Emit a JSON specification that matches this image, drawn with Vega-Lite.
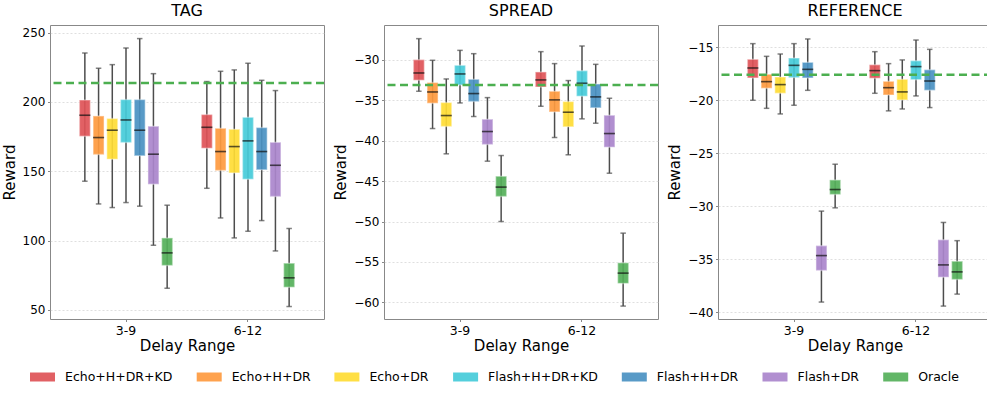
{
"$schema":"https://vega.github.io/schema/vega-lite/v6.json",
"padding":{"left":1,"top":2,"right":0,"bottom":0},
"datasets":{
"boxes":[
{"panel":"TAG","range":"3-9","method":"Echo+H+DR+KD","low":142.8,"q1":175.2,"median":190.4,"q3":201.4,"high":235.3},
{"panel":"TAG","range":"3-9","method":"Echo+H+DR","low":126.4,"q1":162.0,"median":174.3,"q3":189.9,"high":224.3},
{"panel":"TAG","range":"3-9","method":"Echo+DR","low":123.8,"q1":158.7,"median":179.6,"q3":188.0,"high":226.9},
{"panel":"TAG","range":"3-9","method":"Flash+H+DR+KD","low":127.4,"q1":170.7,"median":187.0,"q3":201.7,"high":238.9},
{"panel":"TAG","range":"3-9","method":"Flash+H+DR","low":124.8,"q1":161.1,"median":179.6,"q3":201.7,"high":245.7},
{"panel":"TAG","range":"3-9","method":"Flash+DR","low":96.6,"q1":140.6,"median":162.3,"q3":182.5,"high":220.4},
{"panel":"TAG","range":"3-9","method":"Oracle","low":65.6,"q1":82.0,"median":91.1,"q3":101.9,"high":125.5},
{"panel":"TAG","range":"6-12","method":"Echo+H+DR+KD","low":137.7,"q1":166.6,"median":181.7,"q3":190.9,"high":214.7},
{"panel":"TAG","range":"6-12","method":"Echo+H+DR","low":116.3,"q1":150.5,"median":164.2,"q3":181.0,"high":222.1},
{"panel":"TAG","range":"6-12","method":"Echo+DR","low":101.9,"q1":148.8,"median":167.8,"q3":180.3,"high":223.1},
{"panel":"TAG","range":"6-12","method":"Flash+H+DR+KD","low":106.7,"q1":144.2,"median":171.9,"q3":188.9,"high":227.9},
{"panel":"TAG","range":"6-12","method":"Flash+H+DR","low":114.4,"q1":151.0,"median":164.2,"q3":181.5,"high":215.6},
{"panel":"TAG","range":"6-12","method":"Flash+DR","low":92.5,"q1":131.7,"median":154.3,"q3":170.9,"high":208.2},
{"panel":"TAG","range":"6-12","method":"Oracle","low":52.4,"q1":66.3,"median":73.1,"q3":83.7,"high":108.7},
{"panel":"SPREAD","range":"3-9","method":"Echo+H+DR+KD","low":-33.87,"q1":-32.51,"median":-31.61,"q3":-29.96,"high":-27.36},
{"panel":"SPREAD","range":"3-9","method":"Echo+H+DR","low":-38.49,"q1":-35.36,"median":-33.96,"q3":-32.80,"high":-30.04},
{"panel":"SPREAD","range":"3-9","method":"Echo+DR","low":-41.62,"q1":-38.24,"median":-36.88,"q3":-35.27,"high":-32.35},
{"panel":"SPREAD","range":"3-9","method":"Flash+H+DR+KD","low":-35.32,"q1":-33.09,"median":-31.73,"q3":-30.66,"high":-28.81},
{"panel":"SPREAD","range":"3-9","method":"Flash+H+DR","low":-37.00,"q1":-35.15,"median":-34.16,"q3":-32.39,"high":-29.22},
{"panel":"SPREAD","range":"3-9","method":"Flash+DR","low":-42.53,"q1":-40.47,"median":-38.86,"q3":-37.33,"high":-34.66},
{"panel":"SPREAD","range":"3-9","method":"Oracle","low":-50.0,"q1":-46.91,"median":-45.74,"q3":-44.39,"high":-41.83},
{"panel":"SPREAD","range":"6-12","method":"Echo+H+DR+KD","low":-35.73,"q1":-33.34,"median":-32.47,"q3":-31.48,"high":-28.97},
{"panel":"SPREAD","range":"6-12","method":"Echo+H+DR","low":-39.60,"q1":-36.43,"median":-34.94,"q3":-33.87,"high":-30.45},
{"panel":"SPREAD","range":"6-12","method":"Echo+DR","low":-41.74,"q1":-38.28,"median":-36.47,"q3":-35.15,"high":-32.55},
{"panel":"SPREAD","range":"6-12","method":"Flash+H+DR+KD","low":-37.29,"q1":-34.49,"median":-32.88,"q3":-31.32,"high":-28.27},
{"panel":"SPREAD","range":"6-12","method":"Flash+H+DR","low":-37.83,"q1":-35.93,"median":-34.57,"q3":-32.97,"high":-30.54},
{"panel":"SPREAD","range":"6-12","method":"Flash+DR","low":-44.02,"q1":-40.80,"median":-39.11,"q3":-36.84,"high":-34.74},
{"panel":"SPREAD","range":"6-12","method":"Oracle","low":-60.47,"q1":-57.66,"median":-56.39,"q3":-55.11,"high":-51.44},
{"panel":"REFERENCE","range":"3-9","method":"Echo+H+DR+KD","low":-20.0,"q1":-17.89,"median":-16.95,"q3":-16.13,"high":-14.65},
{"panel":"REFERENCE","range":"3-9","method":"Echo+H+DR","low":-20.76,"q1":-18.87,"median":-18.24,"q3":-17.55,"high":-15.85},
{"panel":"REFERENCE","range":"3-9","method":"Echo+DR","low":-21.29,"q1":-19.34,"median":-18.52,"q3":-17.80,"high":-15.63},
{"panel":"REFERENCE","range":"3-9","method":"Flash+H+DR+KD","low":-20.47,"q1":-17.86,"median":-16.70,"q3":-16.01,"high":-14.65},
{"panel":"REFERENCE","range":"3-9","method":"Flash+H+DR","low":-19.06,"q1":-17.89,"median":-17.08,"q3":-16.42,"high":-14.21},
{"panel":"REFERENCE","range":"3-9","method":"Flash+DR","low":-39.06,"q1":-36.08,"median":-34.67,"q3":-33.73,"high":-30.47},
{"panel":"REFERENCE","range":"3-9","method":"Oracle","low":-30.16,"q1":-28.90,"median":-28.43,"q3":-27.52,"high":-26.04},
{"panel":"REFERENCE","range":"6-12","method":"Echo+H+DR+KD","low":-19.34,"q1":-17.92,"median":-17.20,"q3":-16.64,"high":-15.41},
{"panel":"REFERENCE","range":"6-12","method":"Echo+H+DR","low":-21.0,"q1":-19.50,"median":-18.81,"q3":-18.21,"high":-16.54},
{"panel":"REFERENCE","range":"6-12","method":"Echo+DR","low":-20.82,"q1":-19.97,"median":-19.21,"q3":-18.02,"high":-16.19},
{"panel":"REFERENCE","range":"6-12","method":"Flash+H+DR+KD","low":-19.59,"q1":-18.05,"median":-16.82,"q3":-16.26,"high":-14.31},
{"panel":"REFERENCE","range":"6-12","method":"Flash+H+DR","low":-20.69,"q1":-19.06,"median":-18.18,"q3":-17.11,"high":-15.19},
{"panel":"REFERENCE","range":"6-12","method":"Flash+DR","low":-39.44,"q1":-36.71,"median":-35.55,"q3":-33.17,"high":-31.54},
{"panel":"REFERENCE","range":"6-12","method":"Oracle","low":-38.31,"q1":-36.93,"median":-36.21,"q3":-35.20,"high":-33.26}
],
"oracle":[
{"panel":"TAG","value":213.7},
{"panel":"SPREAD","value":-33.09},
{"panel":"REFERENCE","value":-17.58}
]
},
"hconcat":[
{"width":274,"height":294,"title":"TAG",
"layer":[
{"data":{"name":"boxes"},"transform":[{"filter":"datum.panel === 'TAG'"}],
"encoding":{
"x":{"field":"range","type":"nominal","title":"Delay Range","scale":{"paddingInner":0.213,"paddingOuter":0.2295},"axis":{"labelAngle":0}},
"xOffset":{"field":"method","type":"nominal","sort":["Echo+H+DR+KD","Echo+H+DR","Echo+DR","Flash+H+DR+KD","Flash+H+DR","Flash+DR","Oracle"],"scale":{"paddingInner":0.2,"paddingOuter":0.1}}
},
"layer":[
{"mark":{"type":"rule","color":"#4d4d4d","strokeWidth":1.5},"encoding":{"y":{"field":"low","type":"quantitative","title":"Reward","scale":{"domain":[43.4,255.5],"nice":false,"zero":false},"axis":{"values":[50,75,100,125,150,175,200,225,250]}},"y2":{"field":"high"}}},
{"mark":{"type":"bar","fillOpacity":0.92,"stroke":"white","strokeOpacity":0.35,"strokeWidth":1.5},"encoding":{"y":{"field":"q1","type":"quantitative","title":"Reward","scale":{"domain":[43.4,255.5],"nice":false,"zero":false}},"y2":{"field":"q3"},
"color":{"field":"method","type":"nominal","scale":{"domain":["Echo+H+DR+KD","Echo+H+DR","Echo+DR","Flash+H+DR+KD","Flash+H+DR","Flash+DR","Oracle"],"range":["#de5357","#fe9a3f","#ffdc34","#45cbd9","#4a91c2","#aa85cc","#55b05a"]},"legend":{"title":null,"orient":"none","legendX":-20,"legendY":339.5,"direction":"horizontal"}}}},
{"mark":{"type":"tick","color":"#111111","thickness":1.6,"size":11},"encoding":{"y":{"field":"median","type":"quantitative","title":"Reward","scale":{"domain":[43.4,255.5],"nice":false,"zero":false}}}},
{"mark":{"type":"tick","color":"#4d4d4d","thickness":1.5,"size":5.5},"encoding":{"y":{"field":"low","type":"quantitative","title":"Reward","scale":{"domain":[43.4,255.5],"nice":false,"zero":false}}}},
{"mark":{"type":"tick","color":"#4d4d4d","thickness":1.5,"size":5.5},"encoding":{"y":{"field":"high","type":"quantitative","title":"Reward","scale":{"domain":[43.4,255.5],"nice":false,"zero":false}}}}
]},
{"data":{"name":"oracle"},"transform":[{"filter":"datum.panel === 'TAG'"}],"mark":{"type":"rule","color":"#4caf50","strokeWidth":2.5,"strokeDash":[8,4.5]},"encoding":{"y":{"field":"value","type":"quantitative","title":"Reward","scale":{"domain":[43.4,255.5],"nice":false,"zero":false}}}}
]},
{"width":274,"height":294,"title":"SPREAD",
"layer":[
{"data":{"name":"boxes"},"transform":[{"filter":"datum.panel === 'SPREAD'"}],
"encoding":{
"x":{"field":"range","type":"nominal","title":"Delay Range","scale":{"paddingInner":0.213,"paddingOuter":0.2295},"axis":{"labelAngle":0}},
"xOffset":{"field":"method","type":"nominal","sort":["Echo+H+DR+KD","Echo+H+DR","Echo+DR","Flash+H+DR+KD","Flash+H+DR","Flash+DR","Oracle"],"scale":{"paddingInner":0.2,"paddingOuter":0.1}}
},
"layer":[
{"mark":{"type":"rule","color":"#4d4d4d","strokeWidth":1.5},"encoding":{"y":{"field":"low","type":"quantitative","title":"Reward","scale":{"domain":[-62.07,-25.67],"nice":false,"zero":false},"axis":{"values":[-60,-55,-50,-45,-40,-35,-30]}},"y2":{"field":"high"}}},
{"mark":{"type":"bar","fillOpacity":0.92,"stroke":"white","strokeOpacity":0.35,"strokeWidth":1.5},"encoding":{"y":{"field":"q1","type":"quantitative","title":"Reward","scale":{"domain":[-62.07,-25.67],"nice":false,"zero":false}},"y2":{"field":"q3"},
"color":{"field":"method","type":"nominal","scale":{"domain":["Echo+H+DR+KD","Echo+H+DR","Echo+DR","Flash+H+DR+KD","Flash+H+DR","Flash+DR","Oracle"],"range":["#de5357","#fe9a3f","#ffdc34","#45cbd9","#4a91c2","#aa85cc","#55b05a"]},"legend":{"title":null,"orient":"none","legendX":-20,"legendY":339.5,"direction":"horizontal"}}}},
{"mark":{"type":"tick","color":"#111111","thickness":1.6,"size":11},"encoding":{"y":{"field":"median","type":"quantitative","title":"Reward","scale":{"domain":[-62.07,-25.67],"nice":false,"zero":false}}}},
{"mark":{"type":"tick","color":"#4d4d4d","thickness":1.5,"size":5.5},"encoding":{"y":{"field":"low","type":"quantitative","title":"Reward","scale":{"domain":[-62.07,-25.67],"nice":false,"zero":false}}}},
{"mark":{"type":"tick","color":"#4d4d4d","thickness":1.5,"size":5.5},"encoding":{"y":{"field":"high","type":"quantitative","title":"Reward","scale":{"domain":[-62.07,-25.67],"nice":false,"zero":false}}}}
]},
{"data":{"name":"oracle"},"transform":[{"filter":"datum.panel === 'SPREAD'"}],"mark":{"type":"rule","color":"#4caf50","strokeWidth":2.5,"strokeDash":[8,4.5]},"encoding":{"y":{"field":"value","type":"quantitative","title":"Reward","scale":{"domain":[-62.07,-25.67],"nice":false,"zero":false}}}}
]},
{"width":274,"height":294,"title":"REFERENCE",
"layer":[
{"data":{"name":"boxes"},"transform":[{"filter":"datum.panel === 'REFERENCE'"}],
"encoding":{
"x":{"field":"range","type":"nominal","title":"Delay Range","scale":{"paddingInner":0.213,"paddingOuter":0.2295},"axis":{"labelAngle":0}},
"xOffset":{"field":"method","type":"nominal","sort":["Echo+H+DR+KD","Echo+H+DR","Echo+DR","Flash+H+DR+KD","Flash+H+DR","Flash+DR","Oracle"],"scale":{"paddingInner":0.2,"paddingOuter":0.1}}
},
"layer":[
{"mark":{"type":"rule","color":"#4d4d4d","strokeWidth":1.5},"encoding":{"y":{"field":"low","type":"quantitative","title":"Reward","scale":{"domain":[-40.66,-12.89],"nice":false,"zero":false},"axis":{"values":[-40,-35,-30,-25,-20,-15]}},"y2":{"field":"high"}}},
{"mark":{"type":"bar","fillOpacity":0.92,"stroke":"white","strokeOpacity":0.35,"strokeWidth":1.5},"encoding":{"y":{"field":"q1","type":"quantitative","title":"Reward","scale":{"domain":[-40.66,-12.89],"nice":false,"zero":false}},"y2":{"field":"q3"},
"color":{"field":"method","type":"nominal","scale":{"domain":["Echo+H+DR+KD","Echo+H+DR","Echo+DR","Flash+H+DR+KD","Flash+H+DR","Flash+DR","Oracle"],"range":["#de5357","#fe9a3f","#ffdc34","#45cbd9","#4a91c2","#aa85cc","#55b05a"]},"legend":{"title":null,"orient":"none","legendX":-20,"legendY":339.5,"direction":"horizontal"}}}},
{"mark":{"type":"tick","color":"#111111","thickness":1.6,"size":11},"encoding":{"y":{"field":"median","type":"quantitative","title":"Reward","scale":{"domain":[-40.66,-12.89],"nice":false,"zero":false}}}},
{"mark":{"type":"tick","color":"#4d4d4d","thickness":1.5,"size":5.5},"encoding":{"y":{"field":"low","type":"quantitative","title":"Reward","scale":{"domain":[-40.66,-12.89],"nice":false,"zero":false}}}},
{"mark":{"type":"tick","color":"#4d4d4d","thickness":1.5,"size":5.5},"encoding":{"y":{"field":"high","type":"quantitative","title":"Reward","scale":{"domain":[-40.66,-12.89],"nice":false,"zero":false}}}}
]},
{"data":{"name":"oracle"},"transform":[{"filter":"datum.panel === 'REFERENCE'"}],"mark":{"type":"rule","color":"#4caf50","strokeWidth":2.5,"strokeDash":[8,4.5]},"encoding":{"y":{"field":"value","type":"quantitative","title":"Reward","scale":{"domain":[-40.66,-12.89],"nice":false,"zero":false}}}}
]}
],
"spacing":7,
"resolve":{"scale":{"color":"shared","x":"independent","y":"independent"},"legend":{"color":"shared"}},
"config":{
"font":"DejaVu Sans",
"view":{"stroke":"#888888","strokeWidth":1},
"title":{"font":"DejaVu Sans","fontSize":16,"fontWeight":"normal","color":"#000000","offset":6},
"axis":{"labelFont":"DejaVu Sans","labelFontSize":12,"labelColor":"#000000","titleFont":"DejaVu Sans","titleFontSize":15,"titleFontWeight":"normal","titleColor":"#000000","tickColor":"#888888","tickSize":2.5,"domain":false,"labelPadding":2.5,"titlePadding":5},
"axisY":{"grid":true,"gridDash":[2,2],"gridColor":"#cccccc","gridWidth":0.8,"gridOpacity":0.8},
"axisX":{"grid":false,"labelFontSize":12.5,"titlePadding":2},
"legend":{"labelFont":"DejaVu Sans","labelFontSize":12.5,"labelColor":"#000000","symbolType":"M-1,-0.36H1V0.36H-1Z","symbolSize":625,"symbolOpacity":0.92,"symbolStrokeWidth":0,"labelOffset":10,"columnPadding":23.7,"padding":0}
}
}
